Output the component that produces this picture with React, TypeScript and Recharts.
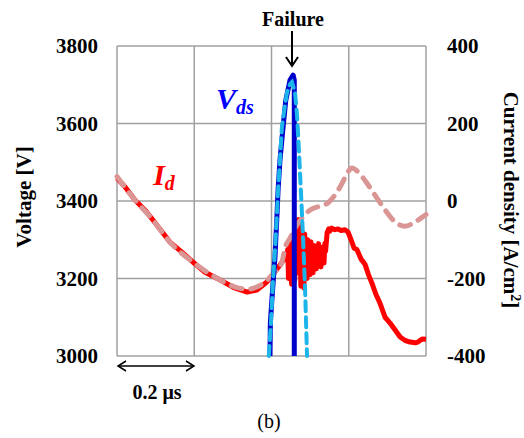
import { CartesianGrid, Line, LineChart, XAxis, YAxis } from 'recharts';

// time axis in ns, 0.2 us per grid division
const timeTicks = [0, 200, 400, 600, 800];
const voltTicks = [3000, 3200, 3400, 3600, 3800];
const currTicks = [-400, -200, 0, 200, 400];

// Vds measured (dark blue)
const vdsMeasTime = [396, 397, 401, 409, 414, 417, 422, 430, 437, 448, 456, 459, 459];
const vdsMeasVolt = [3000, 3085, 3145, 3255, 3359, 3428, 3506, 3591, 3660, 3712, 3725, 3712, 3000];

// Vds simulated (light blue dashed)
const vdsSimTime = [393, 399, 404, 409, 414, 417, 422, 427, 435, 440, 448, 453, 461, 466, 471, 476, 482, 487, 492];
const vdsSimVolt = [3000, 3093, 3196, 3273, 3364, 3428, 3506, 3591, 3648, 3679, 3702, 3707, 3679, 3622, 3531, 3428, 3299, 3170, 3000];

// Id measured (red)
const idMeasTime = [
  0, 21, 47, 72, 93, 117, 137, 168, 197, 228, 267, 306, 337, 362, 388, 409, 427, 440,
  442, 444, 446, 448, 450, 452, 454, 456, 458, 460, 462, 464, 466, 468, 470, 472, 474, 476,
  478, 480, 482, 484, 486, 488, 490, 492, 494, 496, 498, 500, 502, 504, 506, 508, 510, 512,
  514, 516, 518, 520, 522, 524, 526, 528, 530, 532, 534, 536, 538, 540, 544, 548, 551,
  556, 564, 572, 580, 590, 598, 606, 614, 621, 632, 642, 651, 660, 670, 681, 694, 707, 720,
  733, 746, 759, 772, 779, 790, 800,
];
const idMeasCurr = [
  59, 36, 2, -23, -49, -80, -106, -132, -158, -184, -204, -225, -235, -230, -209, -183, -158, -142,
  -125, -200, -115, -190, -100, -215, -95, -175, -85, -205, -70, -160, -55, -185, -48, -150, -90, -220,
  -75, -195, -110, -225, -85, -170, -120, -200, -100, -165, -130, -190, -105, -160, -140, -185, -115, -150,
  -125, -175, -135, -165, -110, -155, -145, -170, -120, -150, -135, -160, -110, -130, -82, -72, -78,
  -70, -74, -72, -76, -74, -80, -100, -122, -125, -150, -163, -190, -212, -240, -264, -300, -315, -333,
  -351, -360, -364, -366, -364, -356, -357,
];

// Id simulated (pink dashed)
const idSimTime = [0, 47, 93, 137, 197, 267, 306, 337, 362, 388, 409, 427, 435, 448, 461, 479, 500, 526, 546, 564, 583, 595, 608, 624, 645, 668, 694, 720, 746, 772, 800];
const idSimCurr = [63, 2, -49, -106, -158, -204, -222, -228, -222, -205, -183, -158, -121, -96, -70, -44, -23, -13, -5, 15, 46, 70, 85, 75, 49, 15, -23, -54, -65, -54, -35];

const zip = (ts: number[], vs: number[]) => ts.map((t, i) => ({ t, v: vs[i] }));

const serif = '"Liberation Serif", "Times New Roman", serif';

function Label({ x, y, children, style }: { x: number; y: number; children: React.ReactNode; style?: React.CSSProperties }) {
  return (
    <div
      style={{
        position: 'absolute',
        left: x,
        top: y,
        transform: 'translate(-50%, -50%)',
        whiteSpace: 'nowrap',
        fontFamily: serif,
        lineHeight: 1,
        ...style,
      }}
    >
      {children}
    </div>
  );
}

export default function App() {
  const tick = { fontSize: 21, fontWeight: 700, fill: '#000', fontFamily: serif };
  return (
    <div style={{ position: 'absolute', left: 0, top: 0, width: 524, height: 438, background: '#fff' }}>
      <LineChart width={524} height={438} margin={{ top: 46, right: 0, left: 0, bottom: 82 }}>
        <CartesianGrid yAxisId="v" stroke="#a0a0a0" strokeWidth={1.5} />
        <XAxis type="number" dataKey="t" domain={[0, 800]} ticks={timeTicks} hide allowDuplicatedCategory={false} />
        <YAxis
          yAxisId="v"
          orientation="left"
          width={117}
          domain={[3000, 3800]}
          ticks={voltTicks}
          axisLine={false}
          tickLine={false}
          tickSize={0}
          tickMargin={19}
          tick={tick}
        />
        <YAxis
          yAxisId="i"
          orientation="right"
          width={98}
          domain={[-400, 400]}
          ticks={currTicks}
          axisLine={false}
          tickLine={false}
          tickSize={0}
          tickMargin={21}
          tick={tick}
        />
        <Line
          yAxisId="i"
          data={zip(idMeasTime, idMeasCurr)}
          dataKey="v"
          type="linear"
          stroke="#ff0000"
          strokeWidth={5}
          strokeLinejoin="round"
          dot={false}
          isAnimationActive={false}
        />
        <Line
          yAxisId="i"
          data={zip(idSimTime, idSimCurr)}
          dataKey="v"
          type="monotone"
          stroke="#d99694"
          strokeWidth={5}
          strokeDasharray="11 9"
          strokeLinecap="round"
          dot={false}
          isAnimationActive={false}
        />
        <Line
          yAxisId="v"
          data={zip(vdsMeasTime, vdsMeasVolt)}
          dataKey="v"
          type="linear"
          stroke="#0000cc"
          strokeWidth={5}
          strokeLinejoin="round"
          dot={false}
          isAnimationActive={false}
        />
        <Line
          yAxisId="v"
          data={zip(vdsSimTime, vdsSimVolt)}
          dataKey="v"
          type="linear"
          stroke="#1cb5ea"
          strokeWidth={4}
          strokeDasharray="10 6"
          strokeLinecap="round"
          dot={false}
          isAnimationActive={false}
        />
      </LineChart>

      <svg width={524} height={438} style={{ position: 'absolute', left: 0, top: 0, pointerEvents: 'none' }}>
        <line x1={292} y1={31} x2={292} y2={64} stroke="#000" strokeWidth={2} />
        <polyline points="286,57 292,66 298,57" fill="none" stroke="#000" strokeWidth={2} />
        <line x1={118} y1={366} x2={194} y2={366} stroke="#000" strokeWidth={1.5} />
        <polyline points="126,361 118,366 126,371" fill="none" stroke="#000" strokeWidth={1.5} />
        <polyline points="186,361 194,366 186,371" fill="none" stroke="#000" strokeWidth={1.5} />
      </svg>

      <Label x={293} y={19} style={{ fontSize: 20, fontWeight: 700 }}>Failure</Label>
      <Label x={235} y={100} style={{ fontSize: 30, fontWeight: 700, fontStyle: 'italic', color: '#0000ff' }}>
        V<sub style={{ fontSize: 20, verticalAlign: '-0.25em' }}>ds</sub>
      </Label>
      <Label x={164} y={176} style={{ fontSize: 30, fontWeight: 700, fontStyle: 'italic', color: '#ff0000' }}>
        I<sub style={{ fontSize: 20, verticalAlign: '-0.25em' }}>d</sub>
      </Label>
      <Label x={24} y={197} style={{ fontSize: 21, fontWeight: 700, transform: 'translate(-50%, -50%) rotate(-90deg)' }}>
        Voltage [V]
      </Label>
      <Label x={511} y={200} style={{ fontSize: 21, fontWeight: 700, transform: 'translate(-50%, -50%) rotate(90deg)' }}>
        Current density [A/cm<sup style={{ fontSize: 14, verticalAlign: '0.5em' }}>2</sup>]
      </Label>
      <Label x={157} y={392} style={{ fontSize: 20, fontWeight: 700 }}>0.2 μs</Label>
      <Label x={269} y={421} style={{ fontSize: 20 }}>(b)</Label>
    </div>
  );
}
